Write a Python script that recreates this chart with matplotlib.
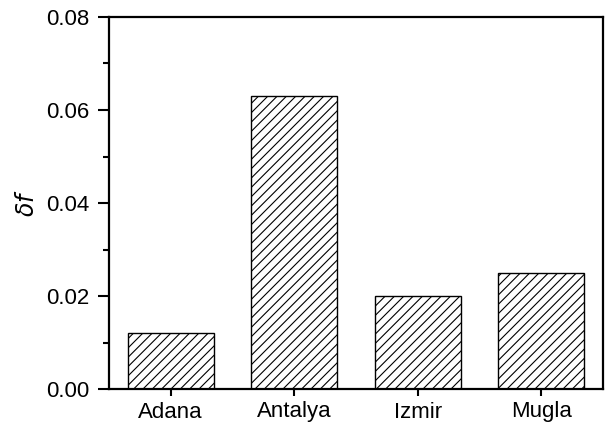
import matplotlib
matplotlib.use("Agg")
import matplotlib.pyplot as plt
from matplotlib.ticker import MultipleLocator

categories = ["Adana", "Antalya", "Izmir", "Mugla"]
values = [0.012, 0.063, 0.020, 0.025]

DPI = 112
k = 100 / DPI  # keep pixel sizes while hatch unit scales with dpi

plt.rcParams['font.family'] = ['Liberation Sans', 'DejaVu Sans']
plt.rcParams['hatch.linewidth'] = 0.8 * k

fig = plt.figure(figsize=(609 / DPI, 426 / DPI), dpi=DPI)
ax = fig.add_axes([109/609, 1-389/426, 494/609, 372/426])
x = list(range(len(categories)))
ax.bar(x, values, width=0.7, color='white', edgecolor='black', hatch='////', linewidth=1.0 * k)
ax.set_xlim(-0.5, 3.5)
ax.set_ylim(0, 0.08)
ax.set_xticks(x)
ax.set_xticklabels(categories)
ax.yaxis.set_major_locator(MultipleLocator(0.02))
ax.yaxis.set_minor_locator(MultipleLocator(0.01))
ax.yaxis.set_major_formatter(matplotlib.ticker.FormatStrFormatter('%.2f'))
for s in ax.spines.values():
    s.set_linewidth(1.6 * k)
ax.tick_params(axis='y', which='major', direction='out', length=8 * k, width=1.5 * k, labelsize=16 * k, pad=6 * k)
ax.tick_params(axis='x', which='major', direction='out', length=5 * k, width=1.5 * k, labelsize=16 * k, pad=4 * k)
ax.tick_params(axis='y', which='minor', direction='out', length=4.5 * k, width=1.5 * k)
ax.set_ylabel(r'$\delta f$', fontsize=17 * k, labelpad=5 * k)
fig.savefig("out.png", dpi=DPI)
